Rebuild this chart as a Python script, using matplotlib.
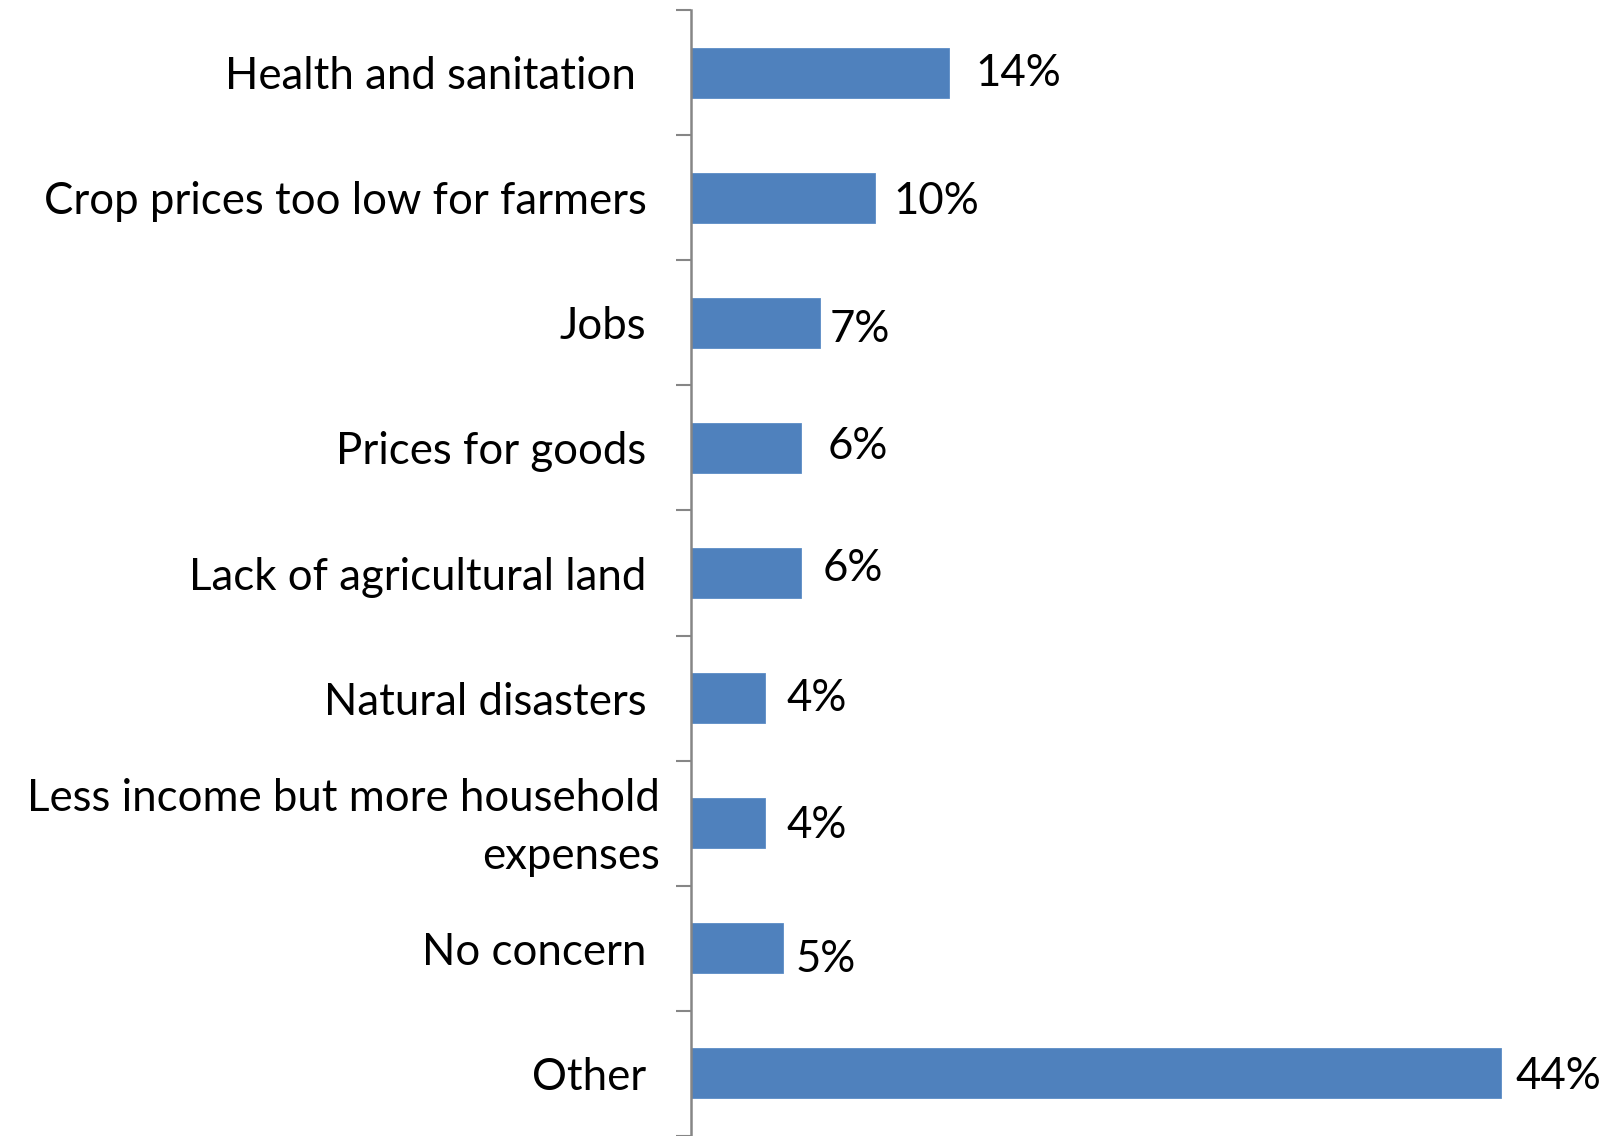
import matplotlib
matplotlib.use("Agg")
import matplotlib.pyplot as plt
import matplotlib.transforms as mtransforms

categories = [
    "Health and sanitation",
    "Crop prices too low for farmers",
    "Jobs",
    "Prices for goods",
    "Lack of agricultural land",
    "Natural disasters",
    "Less income but more household\nexpenses",
    "No concern",
    "Other",
]
values = [14, 10, 7, 6, 6, 4, 4, 5, 44]
value_labels = ["14%", "10%", "7%", "6%", "6%", "4%", "4%", "5%", "44%"]

# label nudges (points) to mimic the original placement
label_dx = [19, 13, 7, 19, 15, 16, 16, 9, 11]
label_dy = [-1, -3, -5, 1, 3, 0, -2, -8, -2]

plt.rcParams['font.family'] = ['Lato', 'DejaVu Sans']

fig = plt.figure(figsize=(16.16, 11.36), dpi=100)
ax = fig.add_axes([691/1616, 0.0, 1 - 691/1616, 1 - 10/1136])

n = len(categories)
ypos = list(range(n))
ax.barh(ypos, values, height=0.4, color="#4F81BD", edgecolor="#5B8CC6", linewidth=0.6)
ax.set_ylim(n - 0.5, -0.5)
ax.set_xlim(0, 925 / 18.4)

ax.set_yticks(ypos)
ax.set_yticklabels(categories, fontsize=31.5, linespacing=1.5)
ax.tick_params(axis='y', length=0, pad=32)

# boundary ticks
ax.set_yticks([i - 0.5 for i in range(n + 1)], minor=True)
ax.tick_params(axis='y', which='minor', length=11, width=1.5, color="#868686", direction='out')
ax.set_xticks([])

for s in ['top', 'right', 'bottom']:
    ax.spines[s].set_visible(False)
ax.spines['left'].set_color("#868686")
ax.spines['left'].set_linewidth(1.8)

# shift some labels to match original placement
for lab in ax.get_yticklabels():
    if "\n" in lab.get_text():
        lab.set_transform(lab.get_transform() + mtransforms.ScaledTranslation(13/100, 8/100, fig.dpi_scale_trans))
    if lab.get_text().startswith("Health"):
        lab.set_transform(lab.get_transform() + mtransforms.ScaledTranslation(-11/100, 0, fig.dpi_scale_trans))

for y, v, t, dx, dy in zip(ypos, values, value_labels, label_dx, label_dy):
    ax.annotate(t, xy=(v, y), xytext=(dx, dy), textcoords='offset points',
                ha='left', va='center', fontsize=31.5)

fig.savefig("out.png", dpi=100)
